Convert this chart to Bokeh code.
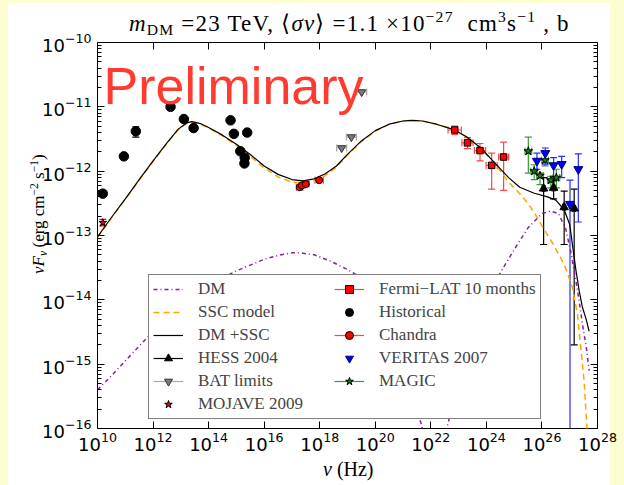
import math
from bokeh.plotting import figure
from bokeh.layouts import column
from bokeh.models import (ColumnDataSource, Whisker, TeeHead, Label, Legend, LegendItem,
                          FixedTicker, LogAxis, CustomJSTickFormatter, Div)
from bokeh.embed import file_html
from bokeh.resources import INLINE

# ---------------- data: log10(nu / Hz), log10(nuFnu / erg cm^-2 s^-1) ----------------
ssc_lognu = [10.0, 10.5, 11.0, 11.5, 12.0, 12.5, 12.9, 13.2, 13.4, 13.7, 14.0, 14.5, 15.0, 15.5, 16.0, 16.5,
             17.0, 17.4, 17.8, 18.2, 18.6, 19.0, 19.5, 20.0, 20.5, 21.0, 21.3, 21.7, 22.2, 22.8, 23.3, 23.8,
             24.3, 24.8, 25.2, 25.5, 25.8, 26.1, 26.4, 26.8, 27.1, 27.28, 27.40, 27.52, 27.62, 27.68]
ssc_logf = [-13.03, -12.73, -12.44, -12.14, -11.85, -11.57, -11.36, -11.26, -11.24, -11.27, -11.33, -11.45,
            -11.60, -11.77, -11.95, -12.09, -12.17, -12.19, -12.15, -12.07, -11.94, -11.75, -11.54, -11.38,
            -11.27, -11.22, -11.21, -11.22, -11.27, -11.35, -11.47, -11.65, -11.88, -12.17, -12.35, -12.50,
            -12.70, -12.92, -13.13, -13.45, -13.81, -14.23, -14.75, -15.27, -16.0, -16.6]

dm_lognu = [10.0, 10.5, 11.0, 11.5, 12.0, 12.5, 13.0, 13.5, 14.0, 14.5, 15.0, 15.5, 16.0, 16.5, 17.0, 17.3,
            17.8, 18.4, 19.0, 19.4, 20.0, 20.5, 21.0, 21.6, 21.9, 22.2, 22.6, 23.0, 23.5, 24.0, 24.5, 25.0,
            25.5, 26.0, 26.3, 26.6, 26.86, 27.05, 27.22, 27.34, 27.46, 27.6, 27.7]
dm_logf = [-15.40, -15.18, -14.95, -14.72, -14.49, -14.28, -14.09, -13.91, -13.77, -13.66, -13.55, -13.46,
           -13.37, -13.31, -13.27, -13.27, -13.30, -13.40, -13.53, -13.63, -13.95, -14.40, -15.00, -15.85,
           -16.3, -16.3, -15.95, -15.30, -14.55, -13.98, -13.58, -13.22, -12.88, -12.66, -12.62, -12.66,
           -12.90, -13.28, -13.70, -14.02, -14.38, -14.75, -15.1]

tot_lognu = [10.0, 10.5, 11.0, 11.5, 12.0, 12.5, 12.9, 13.2, 13.4, 13.7, 14.0, 14.5, 15.0, 15.5, 16.0, 16.5,
             17.0, 17.4, 17.8, 18.2, 18.6, 19.0, 19.5, 20.0, 20.5, 21.0, 21.3, 21.7, 22.2, 22.8, 23.3, 23.8,
             24.3, 24.8, 25.2, 25.7, 26.2, 26.5, 26.8, 27.0, 27.1, 27.22, 27.34, 27.46, 27.59, 27.70]
tot_logf = [-13.02, -12.72, -12.43, -12.13, -11.84, -11.56, -11.35, -11.25, -11.23, -11.26, -11.32, -11.44,
            -11.58, -11.74, -11.92, -12.05, -12.13, -12.15, -12.12, -12.04, -11.92, -11.74, -11.53, -11.37,
            -11.27, -11.22, -11.21, -11.22, -11.27, -11.35, -11.47, -11.64, -11.87, -12.10, -12.25, -12.34,
            -12.40, -12.45, -12.60, -12.83, -13.15, -13.53, -13.86, -14.12, -14.30, -14.49]

hist_lognu = [10.19, 10.95, 11.38, 12.63, 13.11, 13.46, 14.79, 14.91, 15.39, 15.14, 15.30, 15.29]
hist_logf = [-12.35, -11.77, -11.38, -11.00, -11.19, -11.33, -11.21, -11.42, -11.40, -11.69, -11.79, -11.88]
hist_lo = [-12.35, -11.77, -11.47, -11.00, -11.19, -11.33, -11.21, -11.42, -11.40, -11.69, -11.79, -11.88]
hist_hi = [-12.35, -11.77, -11.31, -11.00, -11.19, -11.33, -11.21, -11.42, -11.40, -11.69, -11.79, -11.88]

mojave_lognu = [10.19]
mojave_logf = [-12.80]
mojave_lo = [-12.85]
mojave_hi = [-12.75]

chandra_lognu = [17.28, 17.36, 17.50, 17.98]
chandra_logf = [-12.25, -12.22, -12.20, -12.14]
chandra_dx = [0.12, 0.12, 0.12, 0.15]

bat_lognu = [18.79, 19.14, 19.51]
bat_logf = [-11.64, -11.47, -10.77]
bat_dx = [0.18, 0.18, 0.18]

fermi_lognu = [22.86, 23.32, 23.77, 24.19, 24.62]
fermi_logf = [-11.36, -11.56, -11.68, -11.91, -11.78]
fermi_lo = [-11.43, -11.65, -11.84, -12.28, -12.30]
fermi_hi = [-11.30, -11.48, -11.57, -11.72, -11.55]
fermi_dx = [0.24, 0.20, 0.20, 0.20, 0.18]

magic_lognu = [25.51, 25.72, 25.93, 26.11, 26.32, 26.52]
magic_logf = [-11.69, -12.00, -12.07, -11.83, -12.14, -12.10]
magic_lo = [-12.03, -12.13, -12.21, -11.92, -12.26, -12.26]
magic_hi = [-11.47, -11.90, -12.03, -11.72, -12.08, -11.97]
magic_dx = [0.12, 0.12, 0.12, 0.12, 0.12, 0.12]

veritas_lognu = [25.82, 26.12, 26.42, 26.71, 27.01, 27.31]
veritas_logf = [-11.84, -11.72, -11.91, -11.89, -12.51, -11.97]
veritas_lo = [-11.97, -11.90, -12.10, -12.10, -16.0, -12.79]
veritas_hi = [-11.72, -11.64, -11.79, -11.77, -12.14, -11.73]

hess_lognu = [26.06, 26.42, 26.80, 27.16]
hess_logf = [-12.27, -12.26, -12.56, -12.58]
hess_lo = [-13.14, -12.43, -13.14, -14.70]
hess_hi = [-12.10, -12.15, -12.31, -12.28]
hess_dx = [0.05, 0.05, 0.05, 0.05]

x_tick_exp = [10, 12, 14, 16, 18, 20, 22, 24, 26, 28]
y_tick_exp = [-16, -15, -14, -13, -12, -11, -10]

title_html = ("<i>m</i><sub>DM</sub> =23 TeV, \u27e8<i>\u03c3v</i>\u27e9 =1.1 \u00d710<sup>\u221227</sup>"
              "  cm<sup>3</sup>s<sup>\u22121</sup> , b")
xlabel_html = "<i>\u03bd</i> (Hz)"
ylabel_html = "<i>\u03bdF</i><sub><i>\u03bd</i></sub>\u2009(erg cm<sup>\u22122</sup> s<sup>\u22121</sup>)"


def pw(vals):
    return [10.0 ** v for v in vals]


# ---------------- figure ----------------
W, H = 624, 485
FL, FR, FT, FB = 97, 597, 42, 428
YEL = "#fdfdd2"
bg = ("linear-gradient(to bottom, %s 0px, %s 3px, rgba(255,255,255,0) 3px), "
      "linear-gradient(to right, %s 0px, %s 8px, #ffffff 8px, #ffffff 610px, %s 610px, %s 624px)"
      % (YEL, YEL, YEL, YEL, YEL, YEL))

p = figure(width=W, height=H, x_axis_type="log", y_axis_type="log",
           x_range=(1e10, 1e28), y_range=(1e-16, 1e-10),
           output_backend="svg", toolbar_location=None,
           min_border_left=FL, min_border_right=W - FR, min_border_top=FT, min_border_bottom=H - FB,
           background_fill_color="white", border_fill_alpha=0.0,
           outline_line_color="black", outline_line_width=1,
           styles={"background": bg}, margin=0)
p.xgrid.visible = False
p.ygrid.visible = False

xt = [10.0 ** e for e in x_tick_exp]
yt = [10.0 ** e for e in y_tick_exp]
ym = [m * 10.0 ** e for e in y_tick_exp[:-1] for m in range(2, 10)]


def style_axis(ax):
    ax.axis_line_color = None
    ax.major_tick_in = 7
    ax.major_tick_out = 0
    ax.minor_tick_in = 4
    ax.minor_tick_out = 0
    ax.major_tick_line_color = "black"
    ax.minor_tick_line_color = "black"
    ax.major_label_text_font = "DejaVu Sans"
    ax.major_label_text_font_size = "18px"
    ax.major_label_text_color = "black"


p.xaxis.ticker = FixedTicker(ticks=xt, minor_ticks=[])
p.yaxis.ticker = FixedTicker(ticks=yt, minor_ticks=ym)
style_axis(p.xaxis[0])
style_axis(p.yaxis[0])
p.xaxis.major_label_standoff = 3
p.yaxis.major_label_standoff = 6

top_ax = LogAxis(ticker=FixedTicker(ticks=xt, minor_ticks=[]),
                 formatter=CustomJSTickFormatter(code="return ''"))
right_ax = LogAxis(ticker=FixedTicker(ticks=yt, minor_ticks=ym),
                   formatter=CustomJSTickFormatter(code="return ''"))
for ax in (top_ax, right_ax):
    style_axis(ax)
    ax.major_label_standoff = 0
p.add_layout(top_ax, "above")
p.add_layout(right_ax, "right")

# ---------------- curves ----------------
r_dm = p.line(pw(dm_lognu), pw(dm_logf), line_color="#8a1d9a", line_dash="4 3 1 3", line_width=1.5)
r_ssc = p.line(pw(ssc_lognu), pw(ssc_logf), line_color="orange", line_dash="6 4", line_width=1.5)
r_tot = p.line(pw(tot_lognu), pw(tot_logf), line_color="black", line_width=1.2)


# ---------------- error bars ----------------
def yerr(lognu, lo, hi, color, cap=7, alpha=1.0):
    keep = [i for i in range(len(lognu)) if hi[i] - lo[i] > 1e-9]
    full = [i for i in keep if lo[i] > -15.99]
    open_ = [i for i in keep if lo[i] <= -15.99]
    for idx, has_low in ((full, True), (open_, False)):
        if not idx:
            continue
        src = ColumnDataSource(dict(x=[10.0 ** lognu[i] for i in idx],
                                    lo=[10.0 ** lo[i] for i in idx],
                                    hi=[10.0 ** hi[i] for i in idx]))
        w = Whisker(source=src, base="x", lower="lo", upper="hi", dimension="height",
                    line_color=color, line_alpha=alpha, line_width=1.2,
                    upper_head=TeeHead(size=cap, line_color=color, line_alpha=alpha, line_width=1.2),
                    lower_head=TeeHead(size=cap, line_color=color, line_alpha=alpha, line_width=1.2) if has_low else None)
        p.add_layout(w)


def xerr(lognu, logf, dx, color, cap=7, alpha=1.0):
    src = ColumnDataSource(dict(y=pw(logf),
                                lo=[10.0 ** (a - d) for a, d in zip(lognu, dx)],
                                hi=[10.0 ** (a + d) for a, d in zip(lognu, dx)]))
    w = Whisker(source=src, base="y", lower="lo", upper="hi", dimension="width",
                line_color=color, line_alpha=alpha, line_width=1.2,
                upper_head=TeeHead(size=cap, line_color=color, line_alpha=alpha, line_width=1.2),
                lower_head=TeeHead(size=cap, line_color=color, line_alpha=alpha, line_width=1.2))
    p.add_layout(w)


RED_E = "#ff4545"
GRN_E = "#3a9a3a"
BLU_E = "#2a2aff"
GRY_E = "#a8a8a8"

yerr(hist_lognu, hist_lo, hist_hi, "black")
yerr(mojave_lognu, mojave_lo, mojave_hi, "red")
xerr(chandra_lognu, chandra_logf, chandra_dx, RED_E)
xerr(bat_lognu, bat_logf, bat_dx, GRY_E)
yerr(fermi_lognu, fermi_lo, fermi_hi, RED_E)
xerr(fermi_lognu, fermi_logf, fermi_dx, RED_E)
yerr(magic_lognu, magic_lo, magic_hi, GRN_E)
xerr(magic_lognu, magic_logf, magic_dx, GRN_E)
yerr(veritas_lognu, veritas_lo, veritas_hi, BLU_E)
yerr(hess_lognu, hess_lo, hess_hi, "black")
xerr(hess_lognu, hess_logf, hess_dx, "black")


# ---------------- markers ----------------
def pts(lognu, logf, **kw):
    src = ColumnDataSource(dict(x=pw(lognu), y=pw(logf)))
    r = p.scatter("x", "y", source=src, **kw)
    return r, src


def legend_bar(src, color):
    return p.segment(x0="x", y0="y", x1="x", y1="y", source=src, line_color=color, line_width=1.2)


r_hist, s_hist = pts(hist_lognu, hist_logf, marker="circle", size=9.5, fill_color="black", line_color="black")
r_moj, s_moj = pts(mojave_lognu, mojave_logf, marker="star", size=8, fill_color="red", line_color="black")
r_chan, s_chan = pts(chandra_lognu, chandra_logf, marker="circle", size=7, fill_color="red", line_color="black")
r_bat, s_bat = pts(bat_lognu, bat_logf, marker="inverted_triangle", size=8, fill_color="#7a7a7a", line_color="#333333")
r_fermi, s_fermi = pts(fermi_lognu, fermi_logf, marker="square", size=6.5, fill_color="red", line_color="black")
r_magic, s_magic = pts(magic_lognu, magic_logf, marker="star", size=9, fill_color="#108010", line_color="black")
r_ver, s_ver = pts(veritas_lognu, veritas_logf, marker="inverted_triangle", size=9, fill_color="blue", line_color="#000080")
r_hess, s_hess = pts(hess_lognu, hess_logf, marker="triangle", size=8.5, fill_color="black", line_color="black")

lb_hess = legend_bar(s_hess, "black")
lb_bat = legend_bar(s_bat, GRY_E)
lb_fermi = legend_bar(s_fermi, RED_E)
lb_chan = legend_bar(s_chan, RED_E)
lb_magic = legend_bar(s_magic, GRN_E)

# ---------------- legend ----------------
items = [
    LegendItem(label="DM", renderers=[r_dm]),
    LegendItem(label="SSC model", renderers=[r_ssc]),
    LegendItem(label="DM +SSC", renderers=[r_tot]),
    LegendItem(label="HESS 2004", renderers=[lb_hess, r_hess]),
    LegendItem(label="BAT limits", renderers=[lb_bat, r_bat]),
    LegendItem(label="MOJAVE 2009", renderers=[r_moj]),
    LegendItem(label="Fermi\u2212LAT 10 months", renderers=[lb_fermi, r_fermi]),
    LegendItem(label="Historical", renderers=[r_hist]),
    LegendItem(label="Chandra", renderers=[lb_chan, r_chan]),
    LegendItem(label="VERITAS 2007", renderers=[r_ver]),
    LegendItem(label="MAGIC", renderers=[lb_magic, r_magic]),
]
legend = Legend(items=items, location=(51, 9), orientation="vertical", nrows=6,
                border_line_color="black", border_line_width=1, background_fill_color="white",
                background_fill_alpha=1.0, label_text_font="Liberation Serif", label_text_font_size="17px",
                glyph_width=30, glyph_height=20, label_height=20, label_width=133, label_standoff=15,
                padding=4, spacing=3, margin=0)
p.add_layout(legend)

p.add_layout(Label(x=103 - FL, y=FB - 85, x_units="screen", y_units="screen", text="Preliminary",
                   text_font="Liberation Sans", text_font_size="52px", text_color="#ff3b30",
                   text_baseline="alphabetic", text_align="left"))

# ---------------- texts outside the frame: HTML overlay ----------------
FONT = "font-family:'Liberation Serif',serif;color:#000;white-space:pre;line-height:1;"
SUBSUP = "<style>sub,sup{line-height:0;font-size:68%;} sub{vertical-align:-0.25em;} sup{vertical-align:0.55em;}</style>"


def block(html, left, baseline, size, extra=""):
    top = baseline - 0.84 * size
    return ('<div style="position:absolute;left:%.1fpx;top:%.1fpx;font-size:%dpx;%s%s">%s</div>'
            % (left, top, size, FONT, extra, html))


overlay_html = (SUBSUP + '<div style="position:relative;width:624px;height:485px;">'
                + block(title_html, 129, 31, 23, "letter-spacing:1.2px;")
                + block(xlabel_html, 323, 476, 20)
                + ('<div style="position:absolute;left:30px;top:274px;font-size:17px;%s'
                   'transform:rotate(-90deg);transform-origin:0 0;">%s</div>' % (FONT, ylabel_html))
                + '</div>')
overlay = Div(text=overlay_html, width=W, height=H, margin=(-H, 0, 0, 0),
              styles={"pointer-events": "none"})

layout = column(p, overlay, spacing=0)
open("out.html", "w").write(file_html(layout, INLINE))
